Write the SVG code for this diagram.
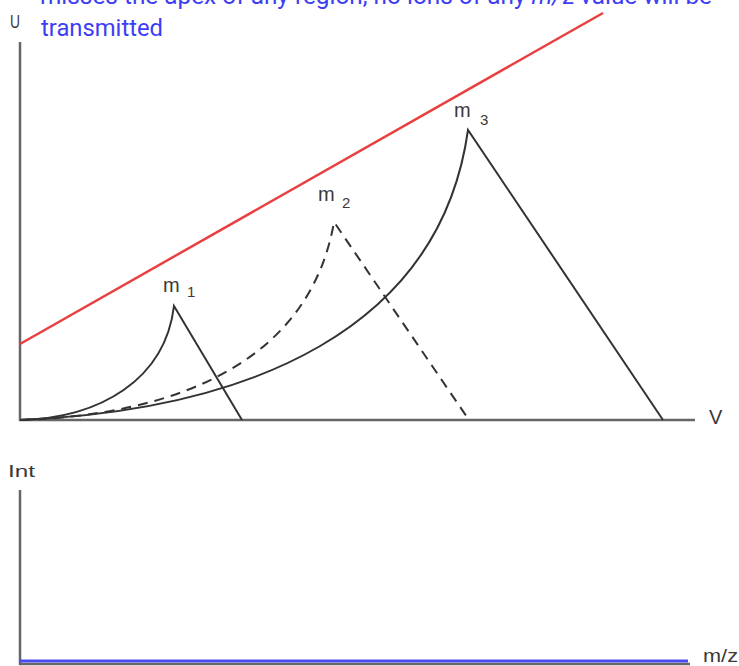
<svg xmlns="http://www.w3.org/2000/svg" width="739" height="666" viewBox="0 0 739 666">
<style>
.note{font-family:Roboto,"Liberation Sans",Arial,sans-serif;font-size:24px;fill:#3d3df5}
.lbl{font-family:"Liberation Sans",Arial,sans-serif;fill:#3a3a3a}
.axis{stroke:#666;stroke-width:2.5;fill:none}
.curve{stroke:#333;stroke-width:2;fill:none}
.dash{stroke:#333;stroke-width:2;fill:none;stroke-dasharray:10 7}
</style>
<rect width="739" height="666" fill="#fff"/>
<g id="note">
<text class="note" x="40" y="4" textLength="672" lengthAdjust="spacingAndGlyphs">misses the apex of any region, no ions of any <tspan font-style="italic">m/</tspan>z value will be</text>
<text class="note" x="41" y="36" textLength="122" lengthAdjust="spacingAndGlyphs">transmitted</text>
</g>
<g id="axes-top">
<line class="axis" x1="20" y1="42" x2="20" y2="421"/>
<line class="axis" x1="19" y1="420" x2="695" y2="420"/>
<text class="lbl" x="10" y="28" font-size="19" textLength="10" lengthAdjust="spacingAndGlyphs">U</text>
<text class="lbl" x="709" y="424" font-size="20">V</text>
</g>
<g id="scan-line">
<line x1="20" y1="344" x2="603" y2="13" stroke="#e84040" stroke-width="2.5"/>
</g>
<g id="connectors">
<g id="m1">
<path class="curve" d="M20,420 C100,418 165,380 174,306 L242,420"/>
</g>
<g id="m2">
<path class="dash" d="M20,420 C180,415 310,360 334,222 L469,420"/>
</g>
<g id="m3">
<path class="curve" d="M20,420 C250,410 440,330 468,130 L663,420"/>
</g>
</g>
<g id="labels">
<text class="lbl" x="163" y="292" font-size="20">m</text><text class="lbl" x="187" y="297" font-size="15">1</text>
<text class="lbl" x="318" y="201" font-size="20">m</text><text class="lbl" x="342" y="208" font-size="15">2</text>
<text class="lbl" x="454" y="117" font-size="20">m</text><text class="lbl" x="480" y="125" font-size="15">3</text>
</g>
<g id="axes-bottom">
<line class="axis" x1="20" y1="490" x2="20" y2="665"/>
<line class="axis" x1="19" y1="664" x2="690" y2="664"/>
<line x1="20" y1="661" x2="688" y2="661" stroke="#4a4af0" stroke-width="3"/>
<text class="lbl" x="8" y="477" font-size="17" textLength="27" lengthAdjust="spacingAndGlyphs">Int</text>
<text class="lbl" x="703" y="662" font-size="18" textLength="35" lengthAdjust="spacingAndGlyphs">m/z</text>
</g>
</svg>
